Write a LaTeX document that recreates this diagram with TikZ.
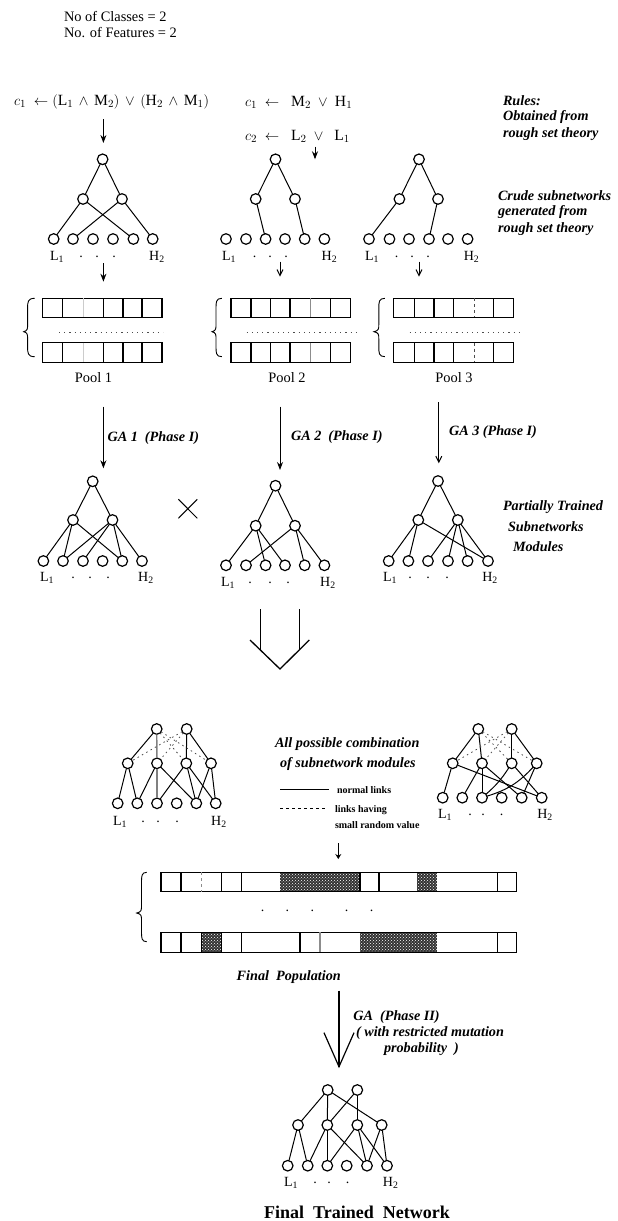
\documentclass[tikz,border=0pt]{standalone}
\usepackage{fontspec}
\setmainfont{Liberation Serif}
\usetikzlibrary{arrows.meta,patterns}
\newcommand\fsz[1]{\fontsize{#1}{#1}\selectfont}
\tikzset{
  neuron/.style={circle,draw,line width=1.2pt,fill=white,minimum size=10.6pt,inner sep=0pt,outer sep=0pt},
  link/.style={line width=1pt},
  weak/.style={line width=.8pt,dash pattern=on 1.5pt off 3.5pt,black!70},
  palelink/.style={line width=1.4pt,black!50},
  cell/.style={line width=1.1pt},
  dotrow/.style={line width=1pt,dash pattern=on 1.2pt off 4pt,black!70},
  brc/.style={line width=.9pt},
  barb/.style={line width=1pt,-{Straight Barb[length=6pt,width=6pt,line width=1pt]}},
  solidbarb/.style={line width=1pt,-{Stealth[length=8pt,width=6pt]}},
  plain/.style={inner sep=0pt,outer sep=0pt,anchor=west,font=\fsz{14.4}},
  note/.style={inner sep=0pt,outer sep=0pt,anchor=west,font=\fsz{14.2}\bfseries\itshape},
  tiny/.style={inner sep=0pt,outer sep=0pt,anchor=west,font=\fsz{10}\bfseries},
  cen/.style={inner sep=0pt,outer sep=0pt,anchor=center,font=\fsz{14}},
  noisy/.style={fill=black!80,postaction={pattern=crosshatch dots,pattern color=white}},
}
\newcommand\nlayer[3]{\foreach \x [count=\i] in {#3} \node[neuron] (#1\i) at (\x,#2) {};}
\newcommand\links[2]{\foreach \a/\b in {#2} \draw[#1] (\a) -- (\b);}
\newcommand\chromo[5]{\draw[cell] (#3,#1) rectangle (#4,#2);
  \foreach \x in {#5} \draw[cell] (\x,#1) -- (\x,#2);}
\newcommand\bracemark[6]{\draw[brc] (#1,#4) .. controls (#2,#4) and (#2,{#4+4}) .. (#2,{#4+10}) -- (#2,{#5-7}) .. controls (#2,{#5-3}) and (#2,{#5-1}) .. (#3,#5) .. controls (#2,{#5+1}) and (#2,{#5+3}) .. (#2,{#5+7}) -- (#2,{#6-10}) .. controls (#2,{#6-4}) and (#2,#6) .. (#1,#6);}
\newcommand\inlabels[6]{\node[cen] (#1L) at (#3,#2) {L\textsubscript{1}};
  \node[cen] (#1H) at (#4,#2) {H\textsubscript{2}};
  \foreach \x [count=\i] in {#5} \node[cen] (#1d\i) at (\x,{#2+#6}) {.};}
\begin{document}
\begin{tikzpicture}[x=1pt,y=-1pt]
\useasboundingbox (0,0) rectangle (618,1221);
% header
\node[plain] (hd1) at (64,16) {No of Classes = 2};
\node[plain] (hd2) at (64,33) {No. of Features = 2};
% rules
\node[plain,font=\fsz{15.6}] (r1) at (14,102) {$c_1\ \leftarrow (\mathrm{L}_1\,\wedge\, \mathrm{M}_2)\,\vee\, (\mathrm{H}_2\,\wedge\, \mathrm{M}_1)$};
\node[plain,font=\fsz{15.6}] (r2) at (245,102) {$c_1\ \leftarrow\ \ \mathrm{M}_2\;\vee\; \mathrm{H}_1$};
\node[plain,font=\fsz{15.6}] (r3) at (245,136.7) {$c_2\ \leftarrow\ \ \mathrm{L}_2\;\vee\ \ \mathrm{L}_1$};
\node[note] (t1) at (503,100.7) {Rules:};
\node[note] (t2) at (503,116.7) {Obtained from};
\node[note] (t3) at (503,134) {rough set theory};
\node[note] (t4) at (498,196) {Crude subnetworks};
\node[note] (t5) at (498,212) {generated from};
\node[note] (t6) at (498,229) {rough set theory};
% crude nets
\coordinate (a1s) at (103.4,119.3); \coordinate (a1e) at (103.4,143);
\coordinate (a2s) at (315,146.7); \coordinate (a2e) at (315,159.3);
\draw[solidbarb] (a1s) -- (a1e);
\draw[solidbarb] (a2s) -- (a2e);
\nlayer{aT}{159.3}{102.6}
\nlayer{aH}{199}{83,122}
\nlayer{aI}{239}{53.7,73,93,113,133.4,152.7}
\links{link}{aT1/aH1,aT1/aH2,aH1/aI1,aH1/aI5,aH2/aI2,aH2/aI6}
\nlayer{bT}{159.3}{275.5}
\nlayer{bH}{199}{255.7,295}
\nlayer{bI}{239}{226,246,265.6,285,304.7,324.4}
\links{link}{bT1/bH1,bT1/bH2,bH1/bI3,bH2/bI5}
\nlayer{cT}{159.3}{419}
\nlayer{cH}{199}{399.4,438}
\nlayer{cI}{239}{369,389.5,409,429,448,467.6}
\links{link}{cT1/cH1,cT1/cH2,cH1/cI1,cH2/cI4}
\inlabels{a}{257}{57}{157}{81,97,114}{0}
\inlabels{b}{257}{229}{329.5}{254.5,270,286}{0}
\inlabels{c}{257}{372}{471.6}{396.6,412,428}{0}
\coordinate (a3s) at (103.4,263); \coordinate (a3e) at (103.4,281.7);
\coordinate (a4s) at (280,261.7); \coordinate (a4e) at (280,276.7);
\coordinate (a5s) at (419,261.7); \coordinate (a5e) at (419,276.7);
\draw[solidbarb] (a3s) -- (a3e);
\draw[barb] (a4s) -- (a4e);
\draw[barb] (a5s) -- (a5e);
% pools
\chromo{298.3}{317.3}{42.6}{162}{62.4,103.4,123,142}
\chromo{342.7}{362.3}{42.6}{162}{62.4,103.4,123,142}
\draw[line width=.6pt,black!20] (83.7,298.3) -- (83.7,317.3) (83.7,342.7) -- (83.7,362.3);
\chromo{298.3}{317.3}{231}{350.4}{251,270.7,290,330.7}
\chromo{342.7}{362.3}{231}{350.4}{251,270.7,290,330.7}
\draw[line width=1pt,black!45] (310,298.3) -- (310,317.3) (310,342.7) -- (310,362.3);
\chromo{298.3}{317.3}{393.8}{513.8}{414.4,434,453.8,493.3}
\chromo{342.7}{362.3}{393.8}{513.8}{414.4,434,453.8,493.3}
\draw[line width=.9pt,dashed,black!70] (474,298.3) -- (474,317.3) (474,342.7) -- (474,362.3);
\draw[dotrow] (59,332.3) -- (163,332.3);
\draw[dotrow] (246.6,332.3) -- (357,332.3);
\draw[dotrow] (409.6,332.3) -- (520,332.3);
\bracemark{34.7}{27.6}{23.7}{298.3}{331.7}{356.7}
\bracemark{221.8}{216}{212}{298.3}{331.7}{356.7}
\bracemark{384.8}{378.8}{374}{298.3}{331.7}{356.7}
\node[plain,anchor=center] (p1) at (93.5,377.7) {Pool 1};
\node[plain,anchor=center] (p2) at (287,377.7) {Pool 2};
\node[plain,anchor=center] (p3) at (454,377.7) {Pool 3};
% GA arrows
\coordinate (g1s) at (103.4,406.7); \coordinate (g1e) at (103.4,468.3);
\coordinate (g2s) at (280,406.7); \coordinate (g2e) at (280,470);
\coordinate (g3s) at (438.8,402); \coordinate (g3e) at (438.8,463.3);
\draw[solidbarb] (g1s) -- (g1e);
\draw[solidbarb] (g2s) -- (g2e);
\draw[barb] (g3s) -- (g3e);
\node[note] (g1) at (107.5,437.7) {GA 1\ \ (Phase I)};
\node[note] (g2) at (291,437) {GA 2\ \ (Phase I)};
\node[note] (g3) at (449,432.3) {GA 3 (Phase I)};
% partially trained nets
\nlayer{dT}{481.3}{92.7}
\nlayer{dH}{520}{73,112.5}
\nlayer{dI}{561}{43.4,63,83,102.6,122.3,142}
\links{link}{dT1/dH1,dT1/dH2,dH1/dI1,dH1/dI2,dH1/dI5,dH2/dI2,dH2/dI3,dH2/dI5,dH2/dI6}
\nlayer{eT}{485.7}{275.5}
\nlayer{eH}{525.7}{255.7,295}
\nlayer{eI}{565.3}{226,246,265.6,285,304.7,324.4}
\links{link}{eT1/eH1,eT1/eH2,eH1/eI1,eH1/eI3,eH1/eI4,eH2/eI2,eH2/eI5,eH2/eI6}
\nlayer{fT}{481}{438}
\nlayer{fH}{520}{418.3,457.8}
\nlayer{fI}{561}{388.7,408.4,428,448,467.6,488}
\links{link}{fT1/fH1,fT1/fH2,fH1/fI1,fH1/fI2,fH1/fI6,fH2/fI3,fH2/fI4,fH2/fI5,fH2/fI6}
\inlabels{d}{578}{47}{146}{73,90,108}{0}
\inlabels{e}{583}{228}{328}{250,270,288}{0}
\inlabels{f}{578}{390}{490}{410,428,447}{0}
\node[note] (s1) at (503,506.7) {Partially Trained};
\node[note] (s2) at (508,526.7) {Subnetworks};
\node[note] (s3) at (513,546.7) {Modules};
\coordinate (x1) at (178.4,499.3); \coordinate (x2) at (197.3,518.3);
\coordinate (x3) at (178.4,518.3); \coordinate (x4) at (197.3,499.3);
\draw[line width=1pt] (x1) -- (x2) (x3) -- (x4);
% big hollow arrow
\coordinate (b1) at (260.3,609.3); \coordinate (b2) at (260.3,650);
\coordinate (b3) at (299.3,609.3); \coordinate (b4) at (299.3,650);
\coordinate (b5) at (250,640); \coordinate (b6) at (280,669); \coordinate (b7) at (309.3,640);
\draw[line width=1.3pt] (b1) -- (b2) (b3) -- (b4);
\draw[line width=1.3pt,line join=miter] (b5) -- (b6) -- (b7);
% combination left
\nlayer{gT}{729}{156.7,186.7}
\nlayer{gH}{763.3}{127.7,157,186.3,211}
\nlayer{gI}{803.3}{117.7,137.3,157,176.7,196.3,215.7}
\links{link}{gT1/gH1,gT2/gH3,gT2/gH4,gH1/gI1,gH1/gI2,gH2/gI2,gH2/gI5,gH3/gI3,gH3/gI5,gH3/gI6,gH4/gI5,gH4/gI6}
\links{palelink}{gT1/gH2,gH2/gI3}
\links{weak}{gT1/gH3,gT1/gH4,gT2/gH1,gT2/gH2}
\inlabels{g}{821.7}{120}{219}{143,158,177}{0}
% combination right
\nlayer{hT}{729}{478.3,511.7}
\nlayer{hH}{763.3}{452.7,482,511.7,536.7}
\nlayer{hI}{797.7}{442.7,462.3,482,501.7,521.7,541.7}
\links{link}{hT1/hH1,hT1/hH2,hT2/hH3,hT2/hH4,hH1/hI1,hH1/hI6,hH2/hI2,hH2/hI3,hH2/hI5,hH4/hI5,hH3/hI6}
\draw[link] (hH3) to[bend left=8] (hI3);
\draw[link] (hH4) to[bend left=15] (hI3);
\links{weak}{hT1/hH3,hT1/hH4,hT2/hH1,hT2/hH2}
\inlabels{h}{815}{445}{545}{470,483,501.7}{0}
% legend
\node[note] (l1) at (275,744.3) {All possible combination};
\node[note] (l2) at (280,764.3) {of subnetwork modules};
\coordinate (n1) at (280,789); \coordinate (n2) at (329,789);
\coordinate (n3) at (280,808.3); \coordinate (n4) at (327,808.3);
\draw[line width=.9pt] (n1) -- (n2);
\draw[line width=.9pt,dash pattern=on 3pt off 3pt] (n3) -- (n4);
\node[tiny] (l3) at (337,790) {normal links};
\node[tiny] (l4) at (335,810) {links having};
\node[tiny] (l5) at (335,825) {small random value};
\coordinate (k1) at (338.3,843); \coordinate (k2) at (338.3,859);
\draw[line width=1.6pt,-{Stealth[length=5pt,width=6pt]}] (k1) -- (k2);
% final population
\fill[noisy] (280,872.3) rectangle (360,891.7);
\fill[noisy] (417.3,872.3) rectangle (437.3,891.7);
\fill[noisy] (201.7,932.3) rectangle (221.7,952.3);
\fill[noisy] (360,932.3) rectangle (437.3,952.3);
\chromo{872.3}{891.7}{161}{516.7}{181,221.7,241.7,360,379,497.3}
\chromo{932.3}{952.3}{161}{516.7}{181,201.7,221.7,241.7,300,497.3}
\draw[line width=.9pt,dashed,black!45] (201.7,872.3) -- (201.7,891.7);
\draw[line width=1.2pt,black!45] (320,932.3) -- (320,952.3);
\bracemark{146.7}{141.5}{136.7}{872.3}{913}{941.7}
\foreach \x [count=\i] in {262.7,287.3,312.3,346.7,371.7} \node[cen] (fd\i) at (\x,910.7) {.};
\node[note] (fp) at (236.7,977.3) {Final\ \ Population};
\coordinate (m1) at (339,990.7); \coordinate (m2) at (339,1066.7);
\coordinate (m3) at (324,1032.7); \coordinate (m4) at (354,1032.7);
\draw[line width=2.2pt] (m1) -- (m2);
\draw[line width=1.2pt] (m3) -- (m2) -- (m4);
\node[note] (q1) at (353.3,1016.7) {GA\ \ (Phase II)};
\node[note] (q2) at (356,1033) {( with restricted mutation};
\node[note] (q3) at (384,1049) {probability\ \ )};
% final net
\nlayer{kT}{1090}{327.7,357.3}
\nlayer{kH}{1125}{298,327.3,357.3,381.7}
\nlayer{kI}{1165.7}{287.7,307.7,327.3,346.7,367,387}
\links{link}{kT1/kH1,kT1/kH2,kT1/kH4,kT2/kH2,kT2/kH3,kH1/kI1,kH1/kI2,kH2/kI2,kH2/kI3,kH2/kI5,kH3/kI3,kH3/kI5,kH3/kI6,kH4/kI5,kH4/kI6}
\inlabels{k}{1182.7}{291}{390.7}{315,329,347.7}{0}
\node[inner sep=0pt,font=\fsz{18}\bfseries] (title) at (357,1212) {Final\ \ Trained\ \ Network};
\end{tikzpicture}
\end{document}
